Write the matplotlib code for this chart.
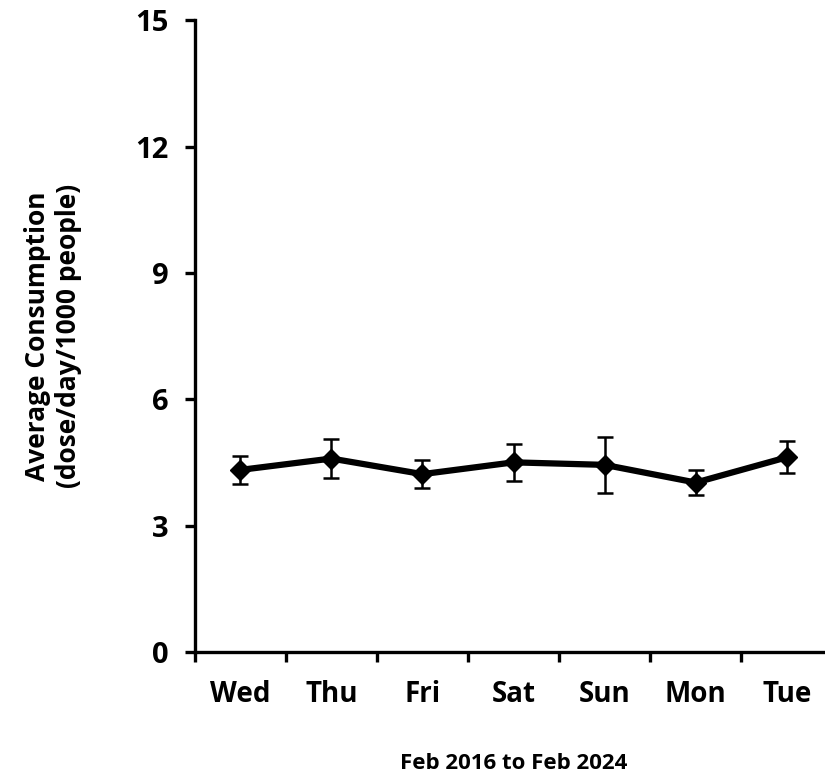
import numpy as np
import matplotlib.pyplot as plt

days = ["Wed", "Thu", "Fri", "Sat", "Sun", "Mon", "Tue"]
consumption = [4.32, 4.59, 4.22, 4.50, 4.44, 4.02, 4.62]
err = [0.33, 0.46, 0.33, 0.44, 0.67, 0.30, 0.38]
yticks = [0, 3, 6, 9, 12, 15]

plt.rcParams['font.family'] = ['Open Sans', 'DejaVu Sans']
plt.rcParams['font.weight'] = 'bold'

fig = plt.figure(figsize=(8.25, 7.76), dpi=100)
ax = fig.add_axes([0.236, 0.16, 0.773, 0.814])

x = np.arange(len(days))
ax.errorbar(x, consumption, yerr=err, color='black', lw=4.5,
            marker='D', markersize=10, elinewidth=1.8, capsize=6,
            capthick=1.8, ecolor='black')

ax.set_xlim(-0.5, 6.5)
ax.set_ylim(0, 15)
ax.set_yticks(yticks)
ax.set_xticks(x)
ax.set_xticklabels(days)
ax.set_xticks(np.arange(-0.5, 7, 1), minor=True)

for side in ['top', 'right']:
    ax.spines[side].set_visible(False)
for side in ['left', 'bottom']:
    ax.spines[side].set_linewidth(2.4)

ax.tick_params(axis='y', which='major', length=7, width=2.4, labelsize=21, pad=12)
ax.tick_params(axis='x', which='major', length=0, labelsize=20, pad=20)
ax.tick_params(axis='x', which='minor', length=7, width=2.4)

for lbl in ax.get_xticklabels() + ax.get_yticklabels():
    lbl.set_fontweight('bold')

ax.set_ylabel("Average Consumption\n(dose/day/1000 people)", fontsize=19,
              fontweight='bold', labelpad=38, linespacing=1.2)
ax.set_xlabel("Feb 2016 to Feb 2024", fontsize=16, fontweight='bold', labelpad=32)

fig.savefig("out.png", dpi=100)
